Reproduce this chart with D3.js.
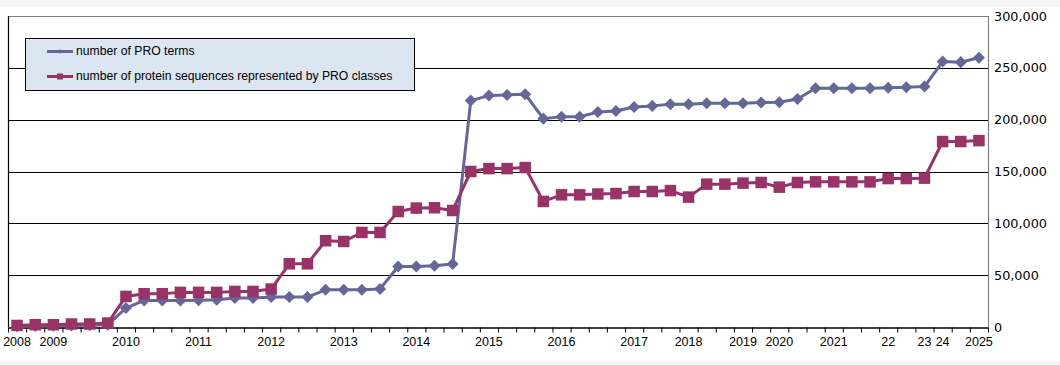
<!DOCTYPE html>
<html>
<head>
<meta charset="utf-8">
<script src="https://cdn.jsdelivr.net/npm/d3@7"></script>
<style>
  body { margin: 0; background: #ffffff; }
</style>
</head>
<body>
<div id="pro-chart"></div>
<script>
// Category labels (most categories have no label)
const categoryLabels = [
  "2008", "", "2009", "", "", "", "2010", "", "", "",
  "2011", "", "", "", "2012", "", "", "", "2013", "",
  "", "", "2014", "", "", "", "2015", "", "", "",
  "2016", "", "", "", "2017", "", "", "2018", "", "",
  "2019", "", "2020", "", "", "2021", "", "", "22", "",
  "23", "24", "", "2025",
];

const proTerms = [
  800, 1000, 1200, 1500, 1800, 2200, 18300, 25600, 25600, 25600,
  25800, 26300, 27900, 27900, 28900, 28900, 28900, 35900, 35900, 35900,
  36600, 58400, 58400, 59000, 60700, 218400, 223200, 223900, 224500, 201000,
  202800, 202800, 207300, 208300, 212300, 213300, 214900, 214900, 215900, 215900,
  215900, 216500, 216800, 220000, 230300, 230300, 230300, 230300, 230900, 231300,
  231900, 256000, 255500, 259800,
];

const proteinSequences = [
  1500, 2200, 2200, 2900, 2900, 3800, 29500, 32100, 32100, 33400,
  33400, 33400, 34300, 34300, 36600, 61000, 61000, 83200, 82500, 91200,
  91200, 111400, 114700, 115000, 112400, 150000, 152800, 152800, 153800, 121100,
  127500, 127500, 128300, 128700, 130700, 130700, 131600, 125300, 137800, 137800,
  138800, 139400, 134900, 139400, 140000, 140000, 140000, 140000, 143200, 143200,
  143600, 178900, 178900, 179800,
];

const yTicks = [0, 50000, 100000, 150000, 200000, 250000, 300000];

const seriesNames = [
  "number of PRO terms",
  "number of protein sequences represented by PRO classes",
];
const seriesColors = ["#666699", "#993366"];

// Dimensions
var widthChart = 1060;
var heightChart = 365;
var plotLeft = 8;
var plotRight = 988;
var plotTop = 16;
var plotBottom = 327;

var svg = d3
  .select("#pro-chart")
  .append("svg")
  .attr("width", widthChart)
  .attr("height", heightChart);

// faint grey strips at top and bottom of the original picture
svg.append("rect").attr("x", 0).attr("y", 0).attr("width", widthChart).attr("height", 7).attr("fill", "#f6f6f6");
svg.append("rect").attr("x", 0).attr("y", 361).attr("width", widthChart).attr("height", 4).attr("fill", "#f6f6f6");

// Scales
var indices = d3.range(categoryLabels.length);
var x = d3
  .scaleBand()
  .domain(indices)
  .range([plotLeft, plotRight]);

var xEdges = d3
  .scaleLinear()
  .domain([0, categoryLabels.length])
  .range([plotLeft, plotRight]);

var y = d3
  .scaleLinear()
  .domain([0, 300000])
  .range([plotBottom, plotTop]);

function cx(i) {
  return x(i) + x.bandwidth() / 2;
}

// Gridlines
svg
  .append("g")
  .selectAll("line")
  .data(yTicks.filter((d) => d > 0 && d < 300000))
  .enter()
  .append("line")
  .attr("x1", plotLeft)
  .attr("x2", plotRight)
  .attr("y1", (d) => Math.round(y(d)) + 0.5)
  .attr("y2", (d) => Math.round(y(d)) + 0.5)
  .attr("stroke", "#000")
  .attr("stroke-width", 1.2);

// Plot border: grey top and right, black left
svg.append("line")
  .attr("x1", plotLeft).attr("x2", plotRight)
  .attr("y1", plotTop + 0.5).attr("y2", plotTop + 0.5)
  .attr("stroke", "#808080");
svg.append("line")
  .attr("x1", plotRight + 0.5).attr("x2", plotRight + 0.5)
  .attr("y1", plotTop).attr("y2", plotBottom)
  .attr("stroke", "#808080").attr("stroke-width", 1.2);
svg.append("line")
  .attr("x1", plotLeft + 0.5).attr("x2", plotLeft + 0.5)
  .attr("y1", plotTop).attr("y2", plotBottom)
  .attr("stroke", "#000").attr("stroke-width", 1.2);

// X axis with tick marks between categories
var xAxis = svg
  .append("g")
  .attr("transform", "translate(0," + (plotBottom + 0.5) + ")")
  .call(
    d3.axisBottom(xEdges)
      .tickValues(d3.range(categoryLabels.length + 1))
      .tickSize(5)
      .tickSizeOuter(0)
      .tickFormat("")
  );
xAxis.select(".domain").attr("stroke", "#000").attr("stroke-width", 1.3);
xAxis.selectAll(".tick line").attr("stroke", "#000");

// X labels
svg
  .append("g")
  .selectAll("text")
  .data(indices.filter((i) => categoryLabels[i] !== ""))
  .enter()
  .append("text")
  .attr("x", (i) => cx(i))
  .attr("y", 346)
  .attr("text-anchor", "middle")
  .style("font-family", "Arial, 'Liberation Sans', sans-serif")
  .style("font-size", "12.5px")
  .attr("fill", "#000")
  .text((i) => categoryLabels[i]);

// Y labels on the right
svg
  .append("g")
  .selectAll("text")
  .data(yTicks)
  .enter()
  .append("text")
  .attr("x", 994)
  .attr("y", (d) => y(d))
  .attr("dy", "0.36em")
  .style("font-family", "Verdana, 'DejaVu Sans', sans-serif")
  .style("font-size", "12.8px")
  .attr("fill", "#000")
  .text((d) => d3.format(",")(d));

// Lines and markers
var line = d3
  .line()
  .x((d, i) => cx(i))
  .y((d) => y(d));

var diamond = d3.symbol().type(d3.symbolDiamond2).size(92);

function drawSeries(values, color, markerType) {
  svg
    .append("path")
    .datum(values)
    .attr("d", line)
    .attr("fill", "none")
    .attr("stroke", color)
    .attr("stroke-width", 3)
    .attr("stroke-linejoin", "round");

  var marks = svg
    .append("g")
    .selectAll("path")
    .data(values)
    .enter();

  if (markerType === "diamond") {
    marks
      .append("path")
      .attr("d", diamond)
      .attr("transform", (d, i) => "translate(" + cx(i) + "," + y(d) + ")")
      .attr("fill", color);
  } else {
    marks
      .append("rect")
      .attr("x", (d, i) => cx(i) - 5.75)
      .attr("y", (d) => y(d) - 5.75)
      .attr("width", 11.5)
      .attr("height", 11.5)
      .attr("fill", color);
  }
}

drawSeries(proTerms, seriesColors[0], "diamond");
drawSeries(proteinSequences, seriesColors[1], "square");

// Legend
var legend = svg.append("g");
legend
  .append("rect")
  .attr("x", 25.5)
  .attr("y", 38.5)
  .attr("width", 389)
  .attr("height", 52)
  .attr("fill", "#dce6f2")
  .attr("stroke", "#000")
  .attr("stroke-width", 1);

var legendRows = legend
  .selectAll("g")
  .data(seriesNames)
  .enter()
  .append("g")
  .attr("transform", (d, i) => "translate(0," + (51.5 + i * 25) + ")");

legendRows
  .append("line")
  .attr("x1", 47)
  .attr("x2", 73)
  .attr("stroke", (d, i) => seriesColors[i])
  .attr("stroke-width", 3);

legendRows
  .append("path")
  .attr("d", (d, i) =>
    i === 0
      ? d3.symbol().type(d3.symbolDiamond2).size(14)()
      : "M-3,-3H3V3H-3Z"
  )
  .attr("transform", "translate(60,0)")
  .attr("fill", (d, i) => seriesColors[i]);

legendRows
  .append("text")
  .attr("x", 56)
  .attr("y", 0)
  .attr("dx", 20)
  .attr("dy", "0.32em")
  .style("font-family", "Arial, 'Liberation Sans', sans-serif")
  .style("font-size", "12.2px")
  .attr("fill", "#000")
  .text((d) => d);
</script>
</body>
</html>
